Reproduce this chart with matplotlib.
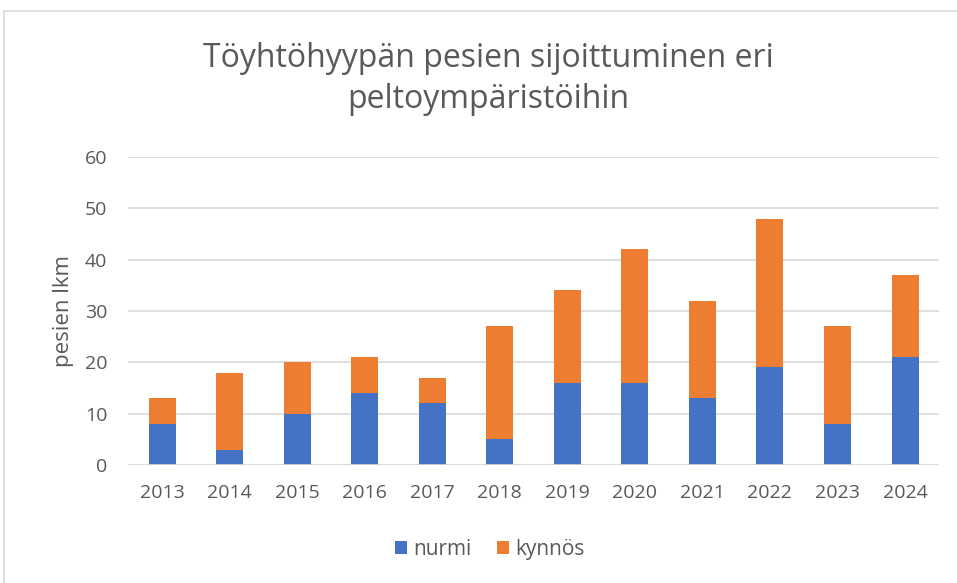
import matplotlib.pyplot as plt
from matplotlib.patches import Rectangle

years = ['2013', '2014', '2015', '2016', '2017', '2018',
         '2019', '2020', '2021', '2022', '2023', '2024']
nurmi = [8, 3, 10, 14, 12, 5, 16, 16, 13, 19, 8, 21]
kynnos = [5, 15, 10, 7, 5, 22, 18, 26, 19, 29, 19, 16]

txt = '#595959'
plt.rcParams['font.family'] = ['Open Sans', 'DejaVu Sans']

fig = plt.figure(figsize=(9.57, 5.83), dpi=100)
ax = fig.add_axes([0.134, 0.2024, 0.847, 0.5283])

x = range(len(years))
ax.bar(x, nurmi, width=0.4, color='#4472C4', label='nurmi', zorder=3)
ax.bar(x, kynnos, width=0.4, bottom=nurmi, color='#ED7D31', label='kynnös', zorder=3)

ax.set_xlim(-0.5, len(years) - 0.5)
ax.set_ylim(0, 60)
ax.set_yticks(range(0, 61, 10))
ax.set_xticks(list(x))
ax.set_xticklabels(years)
ax.yaxis.grid(True, color='#D9D9D9', linewidth=1.2, zorder=0)
ax.tick_params(length=0, colors=txt, labelsize=14)
ax.tick_params(axis='x', pad=14)
ax.tick_params(axis='y', pad=15)
for s in ax.spines.values():
    s.set_visible(False)
ax.axhline(0, color='#D9D9D9', linewidth=1.2, zorder=4)

ax.set_ylabel('pesien lkm', color=txt, fontsize=16, labelpad=8)
fig.text(0.51, 0.865, 'Töyhtöhyypän pesien sijoittuminen eri\npeltoympäristöihin',
         ha='center', va='center', color=txt, fontsize=23, linespacing=1.32)

ax.legend(loc='center', bbox_to_anchor=(0.446, -0.273), ncol=2, frameon=False,
          fontsize=15, labelcolor=txt, handlelength=0.6, handleheight=0.6,
          columnspacing=1.2, handletextpad=0.3)

fig.patches.append(Rectangle((4 / 957, -0.01), 1.01, 1 - 11 / 583 + 0.01,
                             transform=fig.transFigure, fill=False,
                             edgecolor='#D9D9D9', linewidth=1.2))

fig.savefig('out.png', dpi=100)
plt.close(fig)
